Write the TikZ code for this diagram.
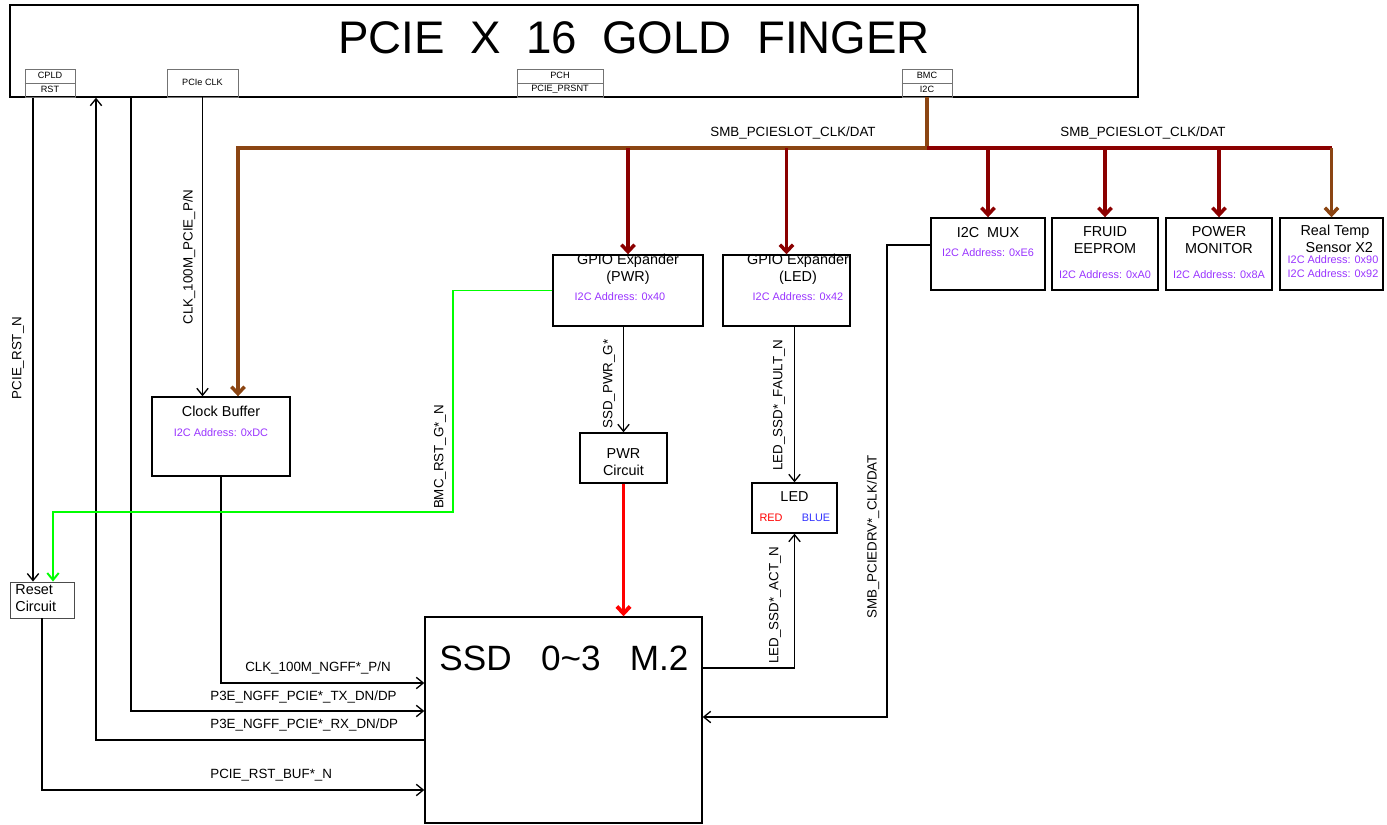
\documentclass[tikz,border=0pt]{standalone}
\usepackage{fontspec}
\setmainfont{Liberation Sans}
\usetikzlibrary{arrows.meta,positioning,fit,calc}

\definecolor{busbrown}{RGB}{139,69,19}
\definecolor{busred}{RGB}{139,0,0}
\definecolor{addrpurple}{RGB}{153,51,255}
\definecolor{ledblue}{RGB}{51,51,255}

\tikzset{
  blk/.style={draw, line width=0.8pt, inner sep=0pt},
  hdr/.style={draw, black!55, line width=0.4pt, inner sep=0pt},
  hdrtxt/.style={font=\fontsize{5.2}{6}\selectfont, inner sep=0pt},
  ttl/.style={font=\fontsize{8.2}{9.6}\selectfont, align=center, inner sep=0pt},
  addr/.style={font=\fontsize{6.2}{7.9}\selectfont, text=addrpurple, align=center, inner sep=0pt},
  lbl/.style={font=\fontsize{7.6}{9}\selectfont, inner sep=0pt},
  vlbl/.style={lbl, rotate=90},
  sig/.style={line width=0.75pt},
  tip/.style={-{Straight Barb[length=4pt,width=6.5pt]}},
  smb/.style={line width=2pt, busbrown},
  smbred/.style={line width=2pt, busred},
  bmcrst/.style={line width=1.1pt, green},
  pwrline/.style={line width=2.2pt, red},
  bustip/.style={-{Straight Barb[length=4pt,width=7.5pt]}},
}

\begin{document}
\begin{tikzpicture}[x=0.02cm, y=-0.02cm]
\useasboundingbox (0,0) rectangle (1387,825);

% gold finger and its pins
\node[blk, fit={(10,5) (1138,97)}] (gf) {};
\node[font=\fontsize{26}{30}\selectfont, inner sep=0pt] (gf-t) at (634,38) {PCIE\ \ X\ \ 16\ \ GOLD\ \ FINGER};
\node[hdr, fit={(25,69) (75,97)}] (cpld) {};
\node[hdr, fit={(167,69) (238,97)}] (pcieclk) {};
\node[hdr, fit={(517,69) (603,97)}] (pch) {};
\node[hdr, fit={(902,69) (952,97)}] (bmc) {};
\foreach \n in {cpld,pch,bmc}
  \draw[black!55, line width=0.4pt] (\n.west) -- (\n.east);
\node[hdrtxt] at (50,75.5) {CPLD};
\node[hdrtxt] at (50,89.5) {RST};
\node[hdrtxt] at (202.5,82) {PCIe CLK};
\node[hdrtxt] at (560,75.5) {PCH};
\node[hdrtxt] at (560,89.5) {PCIE\_PRSNT};
\node[hdrtxt] at (927,75.5) {BMC};
\node[hdrtxt] at (927,89.5) {I2C};

% blocks
\node[blk, fit={(152,397) (290,476)}] (clkbuf) {};
\node[blk, line width=0.5pt, draw=black!70, fit={(10,582) (74,618)}] (reset) {};
\node[blk, fit={(425,617) (702,823)}] (ssd) {};
\node[blk, fit={(553,255) (703,326)}] (gpiopwr) {};
\node[blk, fit={(723,255) (850,326)}] (gpioled) {};
\node[blk, fit={(580,433) (667,483)}] (pwrc) {};
\node[blk, fit={(752,483) (837,533)}] (led) {};
\node[blk, fit={(931,218) (1045,290)}] (mux) {};
\node[blk, fit={(1052,218) (1158,290)}] (fruid) {};
\node[blk, fit={(1166,218) (1272,290)}] (pmon) {};
\node[blk, fit={(1280,218) (1383,290)}] (temp) {};

\node[ttl] at (221,411) {Clock Buffer};
\node[addr] at (221,433) {I2C Address: 0xDC};
\node[ttl, anchor=north west, align=left] at (15,584) {Reset\\Circuit};
\node[font=\fontsize{20}{24}\selectfont, inner sep=0pt] at (564,658) {SSD\ \ \ 0\textasciitilde 3\ \ \ M.2};
\node[ttl] at (628,269) {GPIO Expander\\(PWR)};
\node[addr] at (620,297) {I2C Address: 0x40};
\node[ttl] at (798,269) {GPIO Expander\\(LED)};
\node[addr] at (798,297) {I2C Address: 0x42};
\node[ttl] at (623.5,462) {PWR\\Circuit};
\node[ttl] at (794.5,497) {LED};
\node[addr, text=red] at (771,518) {RED};
\node[addr, text=ledblue] at (816,518) {BLUE};
\node[ttl] at (988,233) {I2C\ \ MUX};
\node[addr] at (988,253) {I2C Address: 0xE6};
\node[ttl] at (1105,240) {FRUID\\EEPROM};
\node[addr] at (1105,275) {I2C Address: 0xA0};
\node[ttl] at (1219,240) {POWER\\MONITOR};
\node[addr] at (1219,275) {I2C Address: 0x8A};
\node[ttl] at (1335,239) {Real Temp\\\hspace*{0.6em}Sensor X2};
\node[addr] at (1333,267) {I2C Address: 0x90\\I2C Address: 0x92};

% routing points
\coordinate (rstx) at (33,0);
\coordinate (rx) at (96,740);
\coordinate (tx) at (131,711);
\coordinate (clkrow) at (0,683);
\coordinate (rstbuf) at (0,790);
\coordinate (g1) at (453,512);
\coordinate (g2) at (53,512);
\coordinate (busL) at (238,148);
\coordinate (actrow) at (0,668);
\coordinate (drvtop) at (887,245);
\coordinate (drv) at (887,717);

% SMBus from BMC
\draw[smb, bustip] (bmc.south) |- (busL) -- (busL |- clkbuf.north);
\draw[smbred] (bmc.south |- busL) -- (temp.north |- busL);
\foreach \n in {gpiopwr,gpioled,mux,fruid,pmon}
  \draw[smbred, bustip] (\n.north |- busL) -- (\n.north);
\draw[smb, bustip] (temp.north |- busL) -- (temp.north);
\node[lbl] at (793,133) {SMB\_PCIESLOT\_CLK/DAT};
\node[lbl] at (1143,133) {SMB\_PCIESLOT\_CLK/DAT};

% reset, clock and PCIe lanes
\draw[sig, tip] (rstx |- gf.south) -- (rstx |- reset.north);
\node[vlbl] at (18,358) {PCIE\_RST\_N};
\draw[sig, tip] (rx -| ssd.west) -- (rx) -- (rx |- gf.south);
\node[lbl, anchor=west] at (210,725) {P3E\_NGFF\_PCIE*\_RX\_DN/DP};
\draw[sig, tip] (tx |- gf.south) -- (tx) -- (tx -| ssd.west);
\node[lbl, anchor=west] at (210,697) {P3E\_NGFF\_PCIE*\_TX\_DN/DP};
\draw[sig, tip] (pcieclk.south) -- (pcieclk.south |- clkbuf.north);
\node[vlbl] at (189,257) {CLK\_100M\_PCIE\_P/N};
\draw[sig, tip] (clkbuf.south) -- (clkbuf.south |- clkrow) -- (clkrow -| ssd.west);
\node[lbl] at (318,668) {CLK\_100M\_NGFF*\_P/N};
\draw[sig, tip] (reset.south) -- (reset.south |- rstbuf) -- (rstbuf -| ssd.west);
\node[lbl, anchor=west] at (210,775) {PCIE\_RST\_BUF*\_N};
\draw[bmcrst, tip] (gpiopwr.west) -| (g1) -- (g2) -- (g2 |- reset.north);
\node[vlbl] at (440,457) {BMC\_RST\_G*\_N};

% power and LEDs
\draw[sig, tip] (gpiopwr.south -| pwrc.north) -- (pwrc.north);
\node[vlbl] at (609,384) {SSD\_PWR\_G*};
\draw[pwrline, bustip] (pwrc.south) -- (pwrc.south |- ssd.north);
\draw[sig, tip] (gpioled.south -| led.north) -- (led.north);
\node[vlbl] at (779,405) {LED\_SSD*\_FAULT\_N};
\draw[sig, tip] (ssd.east |- actrow) -| (led.south);
\node[vlbl] at (775,605) {LED\_SSD*\_ACT\_N};
\draw[sig, tip] (mux.west |- drvtop) -| (drv) -- (drv -| ssd.east);
\node[vlbl] at (873,537) {SMB\_PCIEDRV*\_CLK/DAT};
\end{tikzpicture}
\end{document}
